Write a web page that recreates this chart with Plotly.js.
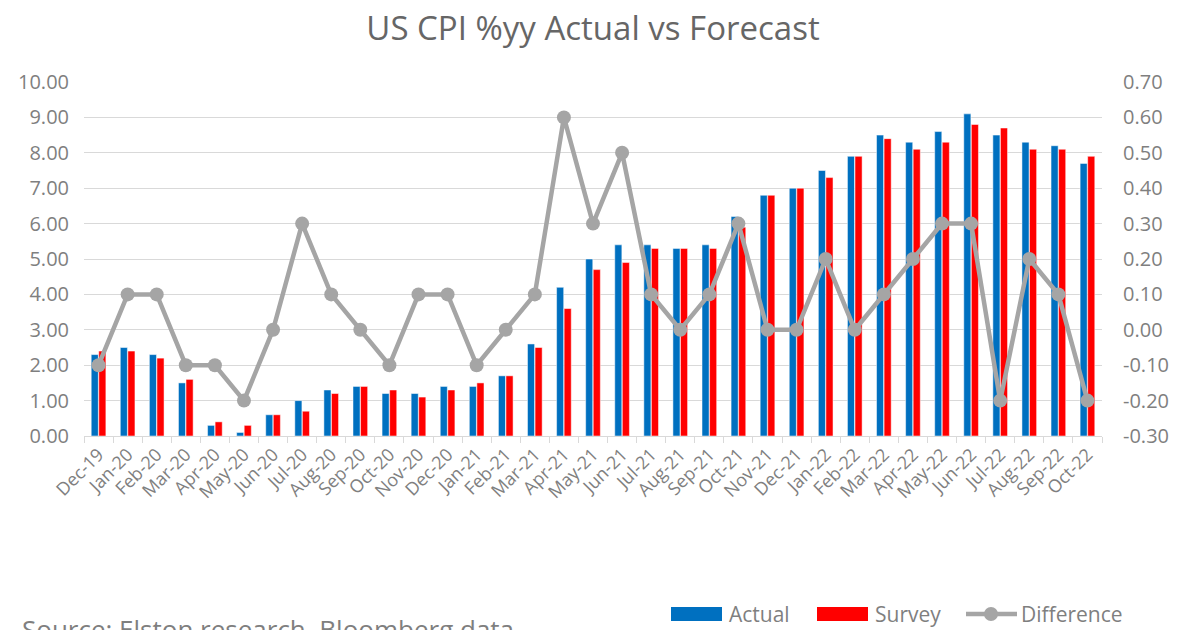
<!DOCTYPE html>
<html>
<head>
<meta charset="utf-8">
<script src="https://cdn.plot.ly/plotly-3.0.1.min.js"></script>
<style>html,body{margin:0;padding:0;background:#fff;overflow:hidden;}#chart{width:1184px;height:630px;}</style>
</head>
<body>
<div id="chart"></div>
<script>
const months = ["Dec-19","Jan-20","Feb-20","Mar-20","Apr-20","May-20","Jun-20","Jul-20","Aug-20","Sep-20","Oct-20","Nov-20","Dec-20","Jan-21","Feb-21","Mar-21","Apr-21","May-21","Jun-21","Jul-21","Aug-21","Sep-21","Oct-21","Nov-21","Dec-21","Jan-22","Feb-22","Mar-22","Apr-22","May-22","Jun-22","Jul-22","Aug-22","Sep-22","Oct-22"];
const actual = [2.3,2.5,2.3,1.5,0.3,0.1,0.6,1.0,1.3,1.4,1.2,1.2,1.4,1.4,1.7,2.6,4.2,5.0,5.4,5.4,5.3,5.4,6.2,6.8,7.0,7.5,7.9,8.5,8.3,8.6,9.1,8.5,8.3,8.2,7.7];
const survey = [2.4,2.4,2.2,1.6,0.4,0.3,0.6,0.7,1.2,1.4,1.3,1.1,1.3,1.5,1.7,2.5,3.6,4.7,4.9,5.3,5.3,5.3,5.9,6.8,7.0,7.3,7.9,8.4,8.1,8.3,8.8,8.7,8.1,8.1,7.9];
const difference = [-0.1,0.1,0.1,-0.1,-0.1,-0.2,0.0,0.3,0.1,0.0,-0.1,0.1,0.1,-0.1,0.0,0.1,0.6,0.3,0.5,0.1,0.0,0.1,0.3,0.0,0.0,0.2,0.0,0.1,0.2,0.3,0.3,-0.2,0.2,0.1,-0.2];
const rightTickVals = [-0.3,-0.2,-0.1,0.0,0.1,0.2,0.3,0.4,0.5,0.6,0.7];
const rightTickText = ["-0.30","-0.20","-0.10","0.00","0.10","0.20","0.30","0.40","0.50","0.60","0.70"];
const legendNames = ["Actual","Survey","Difference"];

const FONT = "Open Sans, Noto Sans, sans-serif";
const GREY = "#7f7f7f";
const BLUE = "#0070C0", RED = "#FF0000", LGREY = "#A5A5A5";

const traces = [
  {type:"bar", name:legendNames[0], x:months, y:actual, marker:{color:BLUE, line:{color:"#ffffff", width:0.5}}, showlegend:false},
  {type:"bar", name:legendNames[1], x:months, y:survey, marker:{color:RED, line:{color:"#ffffff", width:0.5}}, showlegend:false},
  {type:"scatter", mode:"lines+markers", name:legendNames[2], x:months, y:difference, yaxis:"y2", cliponaxis:false,
   line:{color:LGREY, width:4.5}, marker:{color:LGREY, size:14}, showlegend:false}
];

// plot area: x 84..1102, y 82..436 (px)
const L = 84, R = 1102, T = 82, B = 436;
const px = v => (v - L) / (R - L);
const py = v => (B - v) / (B - T);

const shapes = [
  {type:"rect", xref:"paper", yref:"paper", x0:px(671), x1:px(722), y0:py(621), y1:py(607), fillcolor:BLUE, line:{width:0}},
  {type:"rect", xref:"paper", yref:"paper", x0:px(817), x1:px(868), y0:py(621), y1:py(607), fillcolor:RED, line:{width:0}},
  {type:"line", xref:"paper", yref:"paper", x0:px(966), x1:px(1017), y0:py(614), y1:py(614), line:{color:LGREY, width:4.5}},
  {type:"circle", xref:"paper", yref:"paper", x0:px(984), x1:px(998), y0:py(621), y1:py(607), fillcolor:LGREY, line:{width:0}}
];

const layout = {
  width:1184, height:630,
  margin:{l:L, r:1184-R, t:T, b:630-B},
  paper_bgcolor:"#fff", plot_bgcolor:"#fff",
  font:{family:FONT, color:GREY},
  title:{text:"US CPI %yy Actual vs Forecast", font:{family:FONT, size:33, color:"#666666"}, x:0.5, xref:"paper", xanchor:"center", y:0.955, yanchor:"middle"},
  barmode:"group", bargap:0.48, bargroupgap:0.06,
  showlegend:false,
  xaxis:{type:"category", automargin:false, range:[-0.5, months.length - 0.5], tickangle:-45, tickfont:{size:18, color:GREY}, showgrid:false,
         showline:true, linecolor:"#d9d9d9", linewidth:1, ticks:"outside", tickson:"boundaries", ticklen:6, tickcolor:"#d9d9d9", fixedrange:true},
  yaxis:{automargin:false, range:[0,10], dtick:1, tickformat:".2f", tickfont:{size:20, color:GREY}, gridcolor:"#d9d9d9", gridwidth:1, zeroline:false, showline:false, ticks:"", ticklabelstandoff:14},
  yaxis2:{automargin:false, range:[-0.3,0.7], overlaying:"y", side:"right", tickvals:rightTickVals, ticktext:rightTickText, tickfont:{size:20, color:GREY}, showgrid:false, zeroline:false, showline:false, ticks:"", ticklabelstandoff:20},
  shapes:shapes,
  annotations:[
    {text:legendNames[0], xref:"paper", yref:"paper", x:px(727), xanchor:"left", y:py(614), yanchor:"middle", showarrow:false, font:{size:21, color:GREY}},
    {text:legendNames[1], xref:"paper", yref:"paper", x:px(873), xanchor:"left", y:py(614), yanchor:"middle", showarrow:false, font:{size:21, color:GREY}},
    {text:legendNames[2], xref:"paper", yref:"paper", x:px(1019), xanchor:"left", y:py(614), yanchor:"middle", showarrow:false, font:{size:21, color:GREY}},
    {text:"Source: Elston research, Bloomberg data", xref:"paper", yref:"paper", x:px(20), xanchor:"left", y:py(629), yanchor:"middle", showarrow:false, font:{size:26, color:GREY}}
  ]
};

Plotly.newPlot("chart", traces, layout, {displayModeBar:false, staticPlot:true});
</script>
</body>
</html>
